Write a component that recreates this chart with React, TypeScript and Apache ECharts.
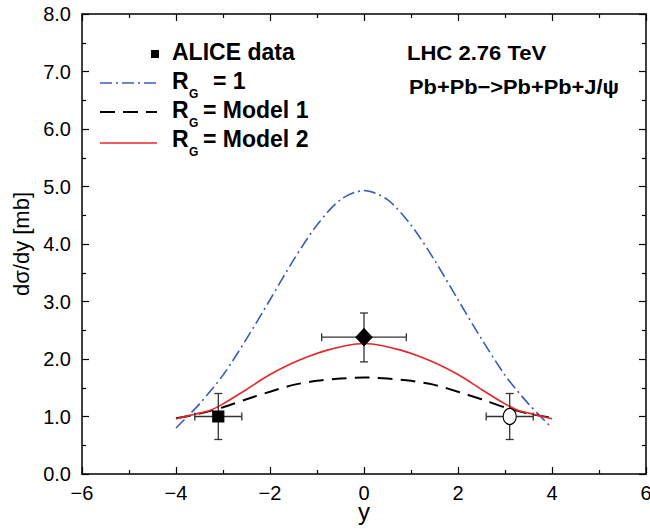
import React, { useEffect, useRef } from "react";
import * as echarts from "echarts";

// Rapidity grid for the theory curves
const rapidity = [-4, -3.5, -3, -2.5, -2, -1.5, -1, -0.5, 0, 0.5, 1, 1.5, 2, 2.5, 3, 3.5, 4];
// R_G = 1 (blue dash-dot)
const rgOne = [0.8, 1.22, 1.72, 2.35, 3.03, 3.72, 4.33, 4.77, 4.93, 4.77, 4.33, 3.72, 3.03, 2.35, 1.72, 1.22, 0.8];
// R_G = Model 1 (black dashed)
const model1 = [0.97, 1.05, 1.16, 1.3, 1.43, 1.55, 1.62, 1.66, 1.68, 1.66, 1.62, 1.55, 1.43, 1.3, 1.16, 1.05, 0.98];
// R_G = Model 2 (red solid)
const model2X = [-4, -3.6, -3.3, -3, -2.5, -2.2, -2, -1.6, -1.2, -0.8, -0.4, 0, 0.4, 0.8, 1.2, 1.6, 2, 2.2, 2.5, 3, 3.3, 3.6, 4];
const model2 = [0.96, 1.04, 1.1, 1.22, 1.47, 1.63, 1.73, 1.9, 2.04, 2.15, 2.23, 2.27, 2.23, 2.15, 2.04, 1.9, 1.73, 1.63, 1.47, 1.22, 1.1, 1.04, 0.96];

// ALICE data
const aliceX = [-3.1, 0, 3.1];
const aliceY = [1.0, 2.38, 1.0];
const aliceXErr = [0.5, 0.9, 0.5];
const aliceYLow = [0.6, 1.95, 0.6];
const aliceYHigh = [1.4, 2.8, 1.4];

const xTicks = { min: -6, max: 6, interval: 2 };
const yTicks = { min: 0, max: 8, interval: 1 };

const FONT = "'Liberation Sans', Arial, Helvetica, sans-serif";

export default function App() {
  const ref = useRef<HTMLDivElement>(null);
  useEffect(() => {
    if (!ref.current) return;
    const chart = echarts.init(ref.current, null, { renderer: "svg" });
    const pair = (xs: number[], ys: number[]) => xs.map((x, i) => [x, ys[i]]);
    const minus = (s: string) => s.replace("-", "\u2212");
    const axisLine = { show: true, onZero: false, lineStyle: { color: "#000", width: 1.5 } };
    const tickStyle = { lineStyle: { color: "#000", width: 1.2 } };

    const symbols = ["rect", "diamond", "circle"];
    const sizes: any[] = [11, [16, 17], [13, 16]];
    const fills = ["#000", "#000", "#fff"];

    const legendY = [83, 112, 143];
    const legendText = ["= 1", "= Model 1", "= Model 2"];
    const legendStroke = ["#3a5cb8", "#000", "#e8262a"];
    const legendDash: any[] = [[12, 4, 2, 4], [15, 8], null];
    const legendBase = [92, 121, 150];
    const legendTextX = [213, 203, 203];

    const graphics: any[] = [
      { type: "rect", shape: { x: 151, y: 50, width: 8, height: 8 }, style: { fill: "#000" } },
      { type: "text", x: 172, y: 63, style: { text: "ALICE data", font: `bold 23px ${FONT}`, fill: "#000", verticalAlign: "bottom" } },
      { type: "text", x: 407, y: 64, scaleX: 1.05, style: { text: "LHC 2.76 TeV", font: `bold 21px ${FONT}`, fill: "#000", verticalAlign: "bottom" } },
      { type: "text", x: 409, y: 98, scaleX: 1.04, style: { text: "Pb+Pb\u2212>Pb+Pb+J/\u03c8", font: `bold 21px ${FONT}`, fill: "#000", verticalAlign: "bottom" } },
    ];
    legendY.forEach((ly, i) => {
      graphics.push({
        type: "line",
        shape: { x1: 100, y1: ly, x2: 157, y2: ly },
        style: { stroke: legendStroke[i], lineWidth: i === 1 ? 2 : 1.6, lineDash: legendDash[i] || undefined },
      });
      graphics.push({ type: "text", x: 172, y: legendBase[i], style: { text: "R", font: `bold 23px ${FONT}`, fill: "#000", verticalAlign: "bottom" } });
      graphics.push({ type: "text", x: 189, y: legendBase[i] + 8, style: { text: "G", font: `bold 12px ${FONT}`, fill: "#000", verticalAlign: "bottom" } });
      graphics.push({ type: "text", x: legendTextX[i], y: legendBase[i], style: { text: legendText[i], font: `bold 23px ${FONT}`, fill: "#000", verticalAlign: "bottom" } });
    });

    chart.setOption({
      animation: false,
      backgroundColor: "#fff",
      textStyle: { fontFamily: FONT },
      grid: { left: 82, right: 4, top: 14, bottom: 55, outerBoundsMode: "none", containLabel: false },
      xAxis: [
        {
          type: "value", ...xTicks, position: "bottom",
          name: "y", nameLocation: "middle", nameGap: 30, nameMoveOverlap: false,
          nameTextStyle: { fontSize: 24, color: "#000", fontFamily: FONT, lineHeight: 14 },
          axisLine, axisTick: { show: true, inside: true, length: 7, ...tickStyle },
          minorTick: { show: true, splitNumber: 2, length: 4, ...tickStyle },
          splitLine: { show: false },
          axisLabel: { color: "#000", fontSize: 20, margin: 9, formatter: (v: number) => minus(String(v)) },
        },
        {
          type: "value", ...xTicks, position: "top",
          axisLine, axisTick: { show: true, inside: true, length: 7, ...tickStyle },
          minorTick: { show: true, splitNumber: 2, length: 4, ...tickStyle },
          splitLine: { show: false }, axisLabel: { show: false },
        },
      ],
      yAxis: [
        {
          type: "value", ...yTicks, position: "left",
          name: "d\u03c3/dy [mb]", nameLocation: "middle", nameGap: 50, nameRotate: 90, nameMoveOverlap: false,
          nameTextStyle: { fontSize: 22, color: "#000", fontFamily: FONT },
          axisLine, axisTick: { show: true, inside: true, length: 7, ...tickStyle },
          minorTick: { show: true, splitNumber: 2, length: 4, ...tickStyle },
          splitLine: { show: false },
          axisLabel: { color: "#000", fontSize: 20, margin: 11, formatter: (v: number) => v.toFixed(1) },
        },
        {
          type: "value", ...yTicks, position: "right",
          axisLine, axisTick: { show: true, inside: true, length: 7, ...tickStyle },
          minorTick: { show: true, splitNumber: 2, length: 4, ...tickStyle },
          splitLine: { show: false }, axisLabel: { show: false },
        },
      ],
      graphic: graphics,
      series: [
        {
          type: "line", name: "R_G = 1", data: pair(rapidity, rgOne), smooth: 0.3, symbol: "none",
          lineStyle: { color: "#3a5cb8", width: 1.6, type: [12, 4, 2, 4] }, z: 2,
        },
        {
          type: "line", name: "R_G = Model 1", data: pair(rapidity, model1), smooth: 0.3, symbol: "none",
          lineStyle: { color: "#000", width: 2, type: [15, 8] }, z: 2,
        },
        {
          type: "line", name: "R_G = Model 2", data: pair(model2X, model2), smooth: 0.2, symbol: "none",
          lineStyle: { color: "#e8262a", width: 1.6 }, z: 3,
        },
        {
          type: "custom", name: "errors",
          data: aliceX.map((x, i) => [x, aliceY[i], aliceXErr[i], aliceYLow[i], aliceYHigh[i]]),
          encode: { x: 0, y: 1 },
          z: 4,
          renderItem: (params: any, api: any) => {
            const x = api.value(0), y = api.value(1), xe = api.value(2), lo = api.value(3), hi = api.value(4);
            const l = api.coord([x - xe, y]);
            const r = api.coord([x + xe, y]);
            const t = api.coord([x, hi]);
            const b = api.coord([x, lo]);
            const c = 4;
            const style = { stroke: "#333", lineWidth: 1.3 };
            const ln = (x1: number, y1: number, x2: number, y2: number) => ({ type: "line", shape: { x1, y1, x2, y2 }, style });
            return {
              type: "group",
              children: [
                ln(l[0], l[1], r[0], r[1]),
                ln(t[0], t[1], b[0], b[1]),
                ln(l[0], l[1] - c, l[0], l[1] + c),
                ln(r[0], r[1] - c, r[0], r[1] + c),
                ln(t[0] - c, t[1], t[0] + c, t[1]),
                ln(b[0] - c, b[1], b[0] + c, b[1]),
              ],
            };
          },
        },
        {
          type: "scatter", name: "ALICE data", z: 5,
          data: aliceX.map((x, i) => ({
            value: [x, aliceY[i]],
            symbol: symbols[i],
            symbolSize: sizes[i],
            itemStyle: { color: fills[i], borderColor: "#000", borderWidth: 1.2, opacity: 1 },
          })),
        },
      ],
    });
    return () => chart.dispose();
  }, []);
  return <div ref={ref} style={{ position: "fixed", left: 0, top: 0, width: 650, height: 529, background: "#fff" }} />;
}
